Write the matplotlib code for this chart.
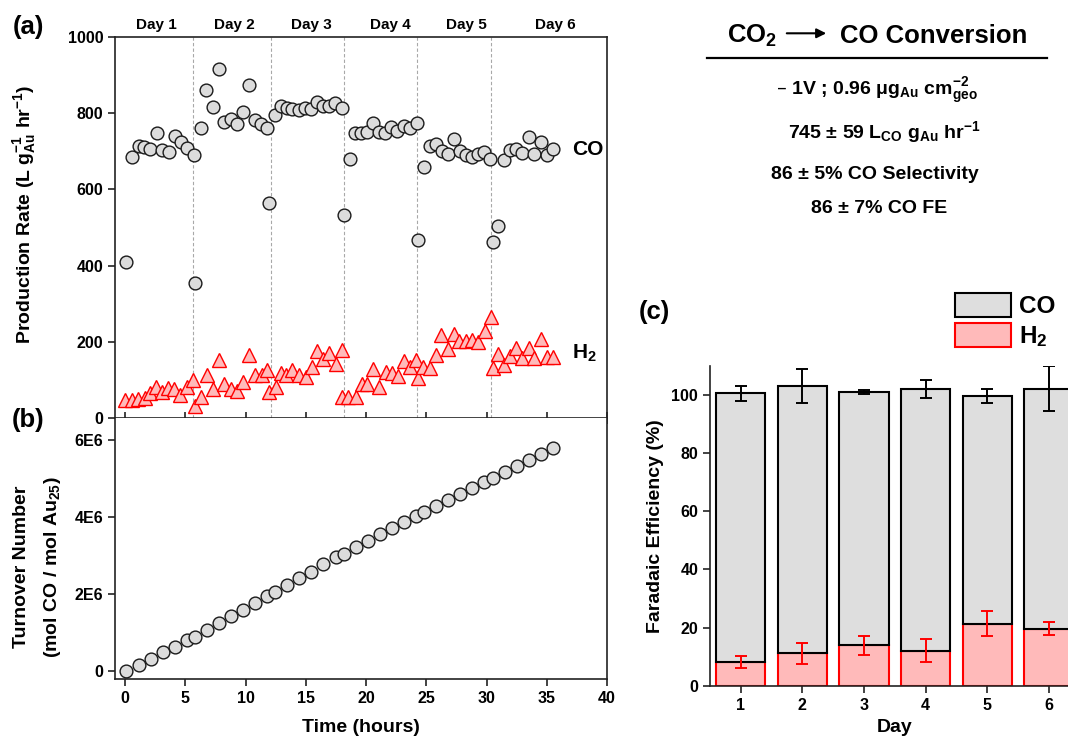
import matplotlib
matplotlib.use('Agg')
import matplotlib.pyplot as plt
import matplotlib.transforms as mtransforms
from matplotlib.patches import Patch, FancyArrowPatch
from matplotlib.lines import Line2D

plt.rcParams['font.family'] = ['Liberation Sans', 'DejaVu Sans']
plt.rcParams['font.weight'] = 'bold'
plt.rcParams['axes.labelweight'] = 'bold'
plt.rcParams['mathtext.default'] = 'regular'

# ---------------- data ----------------
co_t = [0.1, 0.61, 1.16, 1.61, 2.07, 2.66, 3.07, 3.62, 4.15, 4.62, 5.15, 5.7, 5.81,
        6.28, 6.75, 7.33, 7.83, 8.24, 8.8, 9.27, 9.82, 10.32, 10.76, 11.29, 11.81, 11.98,
        12.47, 12.92, 13.41, 13.88, 14.41, 14.91, 15.41, 15.93, 16.4, 16.93, 17.45, 18.0, 18.15,
        18.64, 19.08, 19.58, 20.08, 20.6, 21.1, 21.6, 22.1, 22.6, 23.13, 23.65, 24.2, 24.34,
        24.8, 25.3, 25.8, 26.3, 26.8, 27.3, 27.8, 28.27, 28.77, 29.32, 29.82, 30.32, 30.51,
        30.98, 31.45, 31.95, 32.45, 32.97, 33.5, 33.97, 34.5, 35.0, 35.55]
co_rate = [409, 686, 715, 711, 706, 747, 704, 698, 739, 725, 709, 690, 355,
           761, 861, 816, 917, 778, 785, 771, 804, 874, 781, 772, 761, 563,
           796, 818, 813, 811, 809, 813, 811, 830, 818, 818, 826, 813, 534,
           681, 747, 749, 750, 775, 751, 747, 765, 754, 767, 761, 775, 467,
           658, 715, 719, 702, 692, 732, 702, 690, 684, 693, 697, 679, 463,
           505, 676, 704, 705, 695, 737, 693, 725, 691, 705]

h2_t = [0.0, 0.55, 1.05, 1.66, 2.07, 2.57, 3.04, 3.6, 4.07, 4.56, 5.12, 5.67, 5.81,
        6.28, 6.78, 7.33, 7.8, 8.22, 8.77, 9.27, 9.82, 10.29, 10.79, 11.34, 11.81, 11.95,
        12.5, 12.92, 13.4, 13.9, 14.44, 14.99, 15.49, 15.96, 16.46, 16.96, 17.48, 17.98, 18.04,
        18.53, 19.17, 19.64, 20.05, 20.6, 21.1, 21.63, 22.13, 22.63, 23.13, 23.65, 24.12, 24.29,
        24.76, 25.3, 25.8, 26.22, 26.83, 27.3, 27.75, 28.27, 28.82, 29.32, 29.88, 30.35, 30.51,
        30.98, 31.48, 31.95, 32.45, 32.97, 33.5, 33.97, 34.5, 35.0, 35.5]
h2_rate = [46, 46, 49, 52, 65, 82, 69, 80, 76, 61, 82, 100, 32,
           56, 113, 75, 153, 89, 77, 70, 94, 166, 112, 113, 126, 68,
           81, 118, 113, 127, 112, 107, 135, 176, 156, 170, 143, 54, 179,
           54, 54, 89, 88, 129, 82, 122, 118, 110, 149, 133, 153, 104,
           135, 130, 166, 218, 182, 221, 202, 201, 205, 200, 229, 265, 132,
           168, 139, 162, 183, 158, 185, 157, 208, 159, 159]

ton_t = [0.08, 1.13, 2.13, 3.13, 4.15, 5.15, 5.81, 6.78, 7.77, 8.82, 9.82, 10.82, 11.78,
         12.45, 13.47, 14.47, 15.44, 16.46, 17.48, 18.15, 19.15, 20.14, 21.16, 22.16, 23.15,
         24.15, 24.84, 25.84, 26.83, 27.8, 28.82, 29.82, 30.51, 31.51, 32.5, 33.5, 34.5, 35.5]
ton = [0.0, 0.147e6, 0.30e6, 0.48e6, 0.62e6, 0.80e6, 0.88e6, 1.07e6, 1.24e6, 1.42e6, 1.59e6,
       1.77e6, 1.94e6, 2.05e6, 2.23e6, 2.41e6, 2.58e6, 2.77e6, 2.95e6, 3.05e6, 3.21e6, 3.38e6,
       3.55e6, 3.71e6, 3.88e6, 4.03e6, 4.14e6, 4.29e6, 4.45e6, 4.60e6, 4.75e6, 4.90e6, 5.02e6,
       5.17e6, 5.32e6, 5.49e6, 5.64e6, 5.79e6]

day_bounds = [5.67, 12.09, 18.15, 24.26, 30.4]
day_labels = ['Day 1', 'Day 2', 'Day 3', 'Day 4', 'Day 5', 'Day 6']
day_label_pos = [2.6, 9.1, 15.5, 22.0, 28.3, 35.7]

ton_ticks = [0, 2e6, 4e6, 6e6]
ton_ticklabels = ['0', '2E6', '4E6', '6E6']

days = [1, 2, 3, 4, 5, 6]
h2_fe = [8.1, 11.1, 13.9, 12.1, 21.3, 19.6]
h2_fe_err = [2.1, 3.7, 3.3, 3.9, 4.3, 2.3]
co_fe = [92.5, 91.9, 87.2, 90.0, 78.4, 82.6]
tot_fe_err = [2.5, 5.8, 0.8, 3.0, 2.3, 7.8]

# ---------------- figure ----------------
W, H = 1068, 737
fig = plt.figure(figsize=(W / 100, H / 100), dpi=100)


def fx(px):
    return px / W


def fy(py):
    return 1 - py / H


CO_FACE = '#dcdcdc'
H2_FACE = '#ffbaba'
TICK_FS = 11.5
LABEL_FS = 14
SPINE_LW = 1.2

axA = fig.add_axes([fx(115), fy(418), (607 - 115) / W, (418 - 37) / H])
axB = fig.add_axes([fx(115), fy(679), (607 - 115) / W, (679 - 418) / H])
axC = fig.add_axes([fx(710), fy(685.7), (1079.7 - 710) / W, (685.7 - 366) / H])

for ax in (axA, axB, axC):
    for s in ax.spines.values():
        s.set_linewidth(SPINE_LW)
        s.set_color('#222222')
    ax.tick_params(labelsize=TICK_FS, width=1.2, length=5, color='#222222')

# ---- panel (a) ----
for b in day_bounds:
    axA.axvline(b, color='#a8a8a8', ls=(0, (3, 2)), lw=0.8, zorder=1)
axA.plot(h2_t, h2_rate, ls='none', marker='^', ms=10, mfc=H2_FACE, mec='red', mew=1.0, zorder=3)
axA.plot(co_t, co_rate, ls='none', marker='o', ms=9.2, mfc=CO_FACE, mec='#1a1a1a', mew=1.0, zorder=4)
axA.set_xlim(-0.83, 40)
axA.set_ylim(0, 1000)
axA.set_yticks(range(0, 1001, 200))
axA.set_xticks(range(0, 41, 5))
axA.tick_params(axis='x', direction='inout', length=9, labelbottom=False)
trA = mtransforms.blended_transform_factory(axA.transData, axA.transAxes)
for pos, lab in zip(day_label_pos, day_labels):
    axA.text(pos, 1.031, lab, transform=trA, ha='center', va='center', fontsize=11)
axA.text(37.1, 706, 'CO', fontsize=15, ha='left', va='center')
axA.text(37.1, 170, 'H$_2$', fontsize=15, ha='left', va='center')
axA.set_ylabel('Production Rate (L g$^{-1}_{Au}$ hr$^{-1}$)', fontsize=LABEL_FS, va='center')
axA.yaxis.set_label_coords((25 - 115) / 492, (418 - 214) / 381)

# ---- panel (b) ----
axB.plot(ton_t, ton, ls='none', marker='o', ms=9.2, mfc=CO_FACE, mec='#1a1a1a', mew=1.0, zorder=3)
axB.set_xlim(-0.83, 40)
axB.set_ylim(-0.21e6, 6.57e6)
axB.set_yticks(ton_ticks)
axB.set_yticklabels(ton_ticklabels)
axB.set_xticks(range(0, 41, 5))
axB.spines['top'].set_visible(False)
axB.set_xlabel('Time (hours)', fontsize=LABEL_FS, va='center')
axB.xaxis.set_label_coords(0.5, (679 - 728) / 261)
fig.text(fx(22), fy(567), 'Turnover Number', rotation=90, ha='center', va='center',
         fontsize=LABEL_FS)
fig.text(fx(53), fy(567), '(mol CO / mol Au$_{25}$)', rotation=90, ha='center', va='center',
         fontsize=LABEL_FS)

# ---- panel (c) ----
axC.bar(days, h2_fe, width=0.8, color=H2_FACE, edgecolor='red', lw=1.5, zorder=2)
axC.bar(days, co_fe, width=0.8, bottom=h2_fe, color='#dedede', edgecolor='black', lw=1.5, zorder=2)
tot = [a + b for a, b in zip(h2_fe, co_fe)]
axC.errorbar(days, h2_fe, yerr=h2_fe_err, fmt='none', ecolor='red', elinewidth=1.4,
             capsize=4, capthick=1.4, zorder=3)
axC.errorbar(days, tot, yerr=tot_fe_err, fmt='none', ecolor='black', elinewidth=1.4,
             capsize=4, capthick=1.4, zorder=3)
axC.set_xlim(0.5, 6.5)
axC.set_ylim(0, 110)
axC.set_yticks(range(0, 101, 20))
axC.set_xticks(days)
axC.spines['top'].set_visible(False)
axC.spines['right'].set_visible(False)
axC.set_xlabel('Day', fontsize=LABEL_FS, va='center')
axC.xaxis.set_label_coords(0.5, (685.7 - 728) / 319.7)
axC.set_ylabel('Faradaic Efficiency (%)', fontsize=LABEL_FS, va='center')
axC.yaxis.set_label_coords((655 - 710) / 369.7, 0.5)
handles = [Patch(facecolor='#dedede', edgecolor='black', lw=1.5, label='CO'),
           Patch(facecolor=H2_FACE, edgecolor='red', lw=1.5, label='H$_2$')]
fig.legend(handles=handles, loc='upper left', bbox_to_anchor=(fx(955), fy(293)),
           bbox_transform=fig.transFigure, frameon=False, fontsize=17.5,
           handlelength=2.3, handleheight=1.12, labelspacing=0.2, handletextpad=0.33,
           borderpad=0, borderaxespad=0)

# ---- panel letters ----
fig.text(fx(13), fy(27), '(a)', fontsize=18.5, ha='left', va='center')
fig.text(fx(12), fy(420), '(b)', fontsize=18.5, ha='left', va='center')
fig.text(fx(639), fy(312), '(c)', fontsize=18.5, ha='left', va='center')

# ---- summary text block ----
fig.text(fx(727), fy(43.3), 'CO$_2$', fontsize=18.5, ha='left', va='baseline')
fig.add_artist(FancyArrowPatch((fx(784), fy(33.3)), (fx(829), fy(33.3)),
                               transform=fig.transFigure, arrowstyle='-|>',
                               mutation_scale=14, lw=1.5, color='black'))
fig.text(fx(840), fy(43.3), 'CO Conversion', fontsize=18.5, ha='left', va='baseline')
fig.add_artist(Line2D([fx(707), fx(1047)], [fy(57.7), fy(57.7)], transform=fig.transFigure,
                      color='black', lw=1.6))
fig.text(fx(877), fy(95), '\u2013 1V ; 0.96 \u03bcg$_{Au}$ cm$^{-2}_{geo}$', fontsize=14,
         ha='center', va='baseline')
fig.text(fx(884), fy(138), '745 \u00b1 59 L$_{CO}$ g$_{Au}$ hr$^{-1}$', fontsize=14,
         ha='center', va='baseline')
fig.text(fx(875), fy(179), '86 \u00b1 5% CO Selectivity', fontsize=14, ha='center', va='baseline')
fig.text(fx(879), fy(213), '86 \u00b1 7% CO FE', fontsize=14, ha='center', va='baseline')

fig.savefig('out.png', dpi=100)
